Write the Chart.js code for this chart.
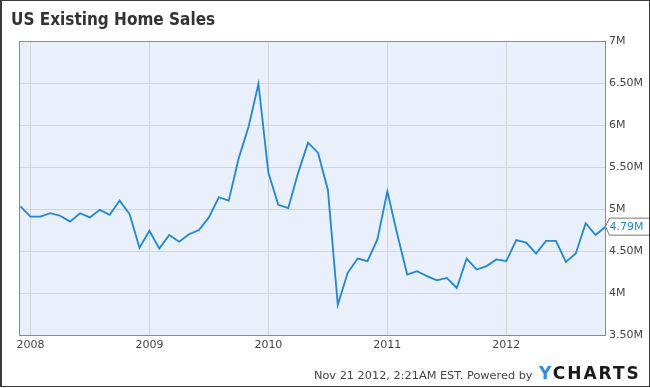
<!DOCTYPE html>
<html>
<head>
<meta charset="utf-8">
<script src="https://cdn.jsdelivr.net/npm/chart.js@4"></script>
<style>
  html, body { margin: 0; padding: 0; background: #fff; }
  #wrap {
    position: relative; width: 650px; height: 388px; overflow: hidden;
    font-family: "DejaVu Sans", sans-serif;
  }
  #frame {
    position: absolute; left: 0; top: 0; width: 647px; height: 385px;
    border-left: 2px solid #3a3a3a; border-top: 1px solid #3a3a3a;
    border-right: 1px solid #3a3a3a; border-bottom: 1px solid #3a3a3a;
    pointer-events: none;
  }
  #title {
    position: absolute; left: 11px; top: 9px;
    font-family: "DejaVu Sans Condensed", "DejaVu Sans", sans-serif;
    font-weight: bold; font-size: 17px; color: #333;
  }
  #footer {
    position: absolute; left: 314px; top: 369px;
    font-size: 11.3px; color: #444; white-space: nowrap;
  }
  #logo {
    position: absolute; left: 539px; top: 363px;
    font-weight: bold; font-size: 17px; letter-spacing: 2px; color: #1a1a1a;
    white-space: nowrap;
  }
  #logo span { color: #2a8cf0; }
  canvas { position: absolute; left: 0; top: 0; }
</style>
</head>
<body>
<div id="wrap">
  <canvas id="chart" width="650" height="388"></canvas>
  <div id="title">US Existing Home Sales</div>
  <div id="footer">Nov 21 2012, 2:21AM EST. Powered by</div>
  <div id="logo"><span>Y</span>CHARTS</div>
  <div id="frame"></div>
</div>
<script>
    // monthly existing home sales (millions, seasonally adjusted annual rate)
    const months = [
      '2007-12',
      '2008-01','2008-02','2008-03','2008-04','2008-05','2008-06','2008-07','2008-08','2008-09','2008-10','2008-11','2008-12',
      '2009-01','2009-02','2009-03','2009-04','2009-05','2009-06','2009-07','2009-08','2009-09','2009-10','2009-11','2009-12',
      '2010-01','2010-02','2010-03','2010-04','2010-05','2010-06','2010-07','2010-08','2010-09','2010-10','2010-11','2010-12',
      '2011-01','2011-02','2011-03','2011-04','2011-05','2011-06','2011-07','2011-08','2011-09','2011-10','2011-11','2011-12',
      '2012-01','2012-02','2012-03','2012-04','2012-05','2012-06','2012-07','2012-08','2012-09','2012-10','2012-11'
    ];
    const sales = [
      5.03,
      4.91, 4.91, 4.95, 4.92, 4.85, 4.95, 4.90, 4.99, 4.93, 5.10, 4.94, 4.54,
      4.74, 4.53, 4.69, 4.61, 4.70, 4.75, 4.90, 5.14, 5.10, 5.60, 5.98, 6.49,
      5.43, 5.05, 5.01, 5.43, 5.79, 5.67, 5.23, 3.86, 4.24, 4.41, 4.38, 4.64,
      5.21, 4.70, 4.22, 4.26, 4.20, 4.15, 4.18, 4.06, 4.41, 4.28, 4.32, 4.40,
      4.38, 4.63, 4.60, 4.47, 4.62, 4.62, 4.37, 4.47, 4.83, 4.69, 4.79
    ];
    const yearTicks = ['2008', '2009', '2010', '2011', '2012'];

    // months counted from Jan 2008
    function monthIndex(s) {
      const [y, m] = s.split('-').map(Number);
      return (y - 2008) * 12 + (m - 1);
    }

    const points = months.map((m, i) => ({ x: monthIndex(m), y: sales[i] * 1e6 }));

    function fmtM(v) {
      const m = v / 1e6;
      return (Number.isInteger(m) ? m.toString() : m.toFixed(2)) + 'M';
    }

    const plotBg = {
      id: 'plotBg',
      beforeDraw(chart) {
        const { ctx, chartArea: a } = chart;
        ctx.save();
        ctx.fillStyle = '#e9f0fb';
        ctx.fillRect(a.left, a.top, a.right - a.left, a.bottom - a.top);
        ctx.restore();
      },
      afterDatasetsDraw(chart) {
        const { ctx, chartArea: a } = chart;
        ctx.save();
        ctx.strokeStyle = '#8a8a8a';
        ctx.lineWidth = 1;
        ctx.strokeRect(a.left + 0.5, a.top + 0.5, a.right - a.left - 1, a.bottom - a.top);
        ctx.restore();
      },
      afterDraw(chart) {
        // last value callout on the right axis
        const { ctx } = chart;
        const last = sales[sales.length - 1];
        const y = chart.scales.y.getPixelForValue(last * 1e6);
        const x0 = chart.chartArea.right - 0.5;
        ctx.save();
        ctx.beginPath();
        ctx.moveTo(x0, y);
        ctx.lineTo(x0 + 4, y - 8.5);
        ctx.lineTo(649.5, y - 8.5);
        ctx.lineTo(649.5, y + 8.5);
        ctx.lineTo(x0 + 4, y + 8.5);
        ctx.closePath();
        ctx.fillStyle = '#fff';
        ctx.fill();
        ctx.strokeStyle = '#777';
        ctx.lineWidth = 1;
        ctx.stroke();
        ctx.fillStyle = '#1a88e0';
        ctx.font = '11px "DejaVu Sans"';
        ctx.textBaseline = 'middle';
        ctx.fillText(fmtM(last * 1e6), x0 + 4, y + 0.5);
        ctx.restore();
      }
    };

    new Chart(document.getElementById('chart'), {
      type: 'line',
      data: {
        datasets: [{
          data: points,
          borderColor: '#1a88e0',
          borderWidth: 1.8,
          pointRadius: 0,
          tension: 0,
          fill: false
        }]
      },
      options: {
        responsive: false,
        animation: false,
        layout: { padding: { left: 19, top: 41, right: 0, bottom: 0 } },
        plugins: { legend: { display: false }, tooltip: { enabled: false } },
        scales: {
          x: {
            type: 'linear',
            min: -1.15,
            max: 58.05,
            afterBuildTicks(axis) {
              axis.ticks = yearTicks.map(y => ({ value: monthIndex(y + '-01') }));
            },
            afterFit(axis) { axis.height = 53; },
            grid: { color: '#d4d4d4', drawTicks: false },
            border: { display: false },
            ticks: {
              padding: 4,
              color: '#444',
              font: { family: 'DejaVu Sans', size: 11 },
              maxRotation: 0,
              callback: v => String(2008 + v / 12)
            }
          },
          y: {
            position: 'right',
            min: 3.5e6,
            max: 7e6,
            afterFit(axis) { axis.width = 44; },
            grid: { color: '#d4d4d4', drawTicks: false },
            border: { display: false },
            ticks: {
              stepSize: 0.5e6,
              padding: 3,
              color: '#444',
              font: { family: 'DejaVu Sans', size: 11 },
              callback: v => fmtM(v)
            }
          }
        }
      },
      plugins: [plotBg]
    });
</script>
</body>
</html>
